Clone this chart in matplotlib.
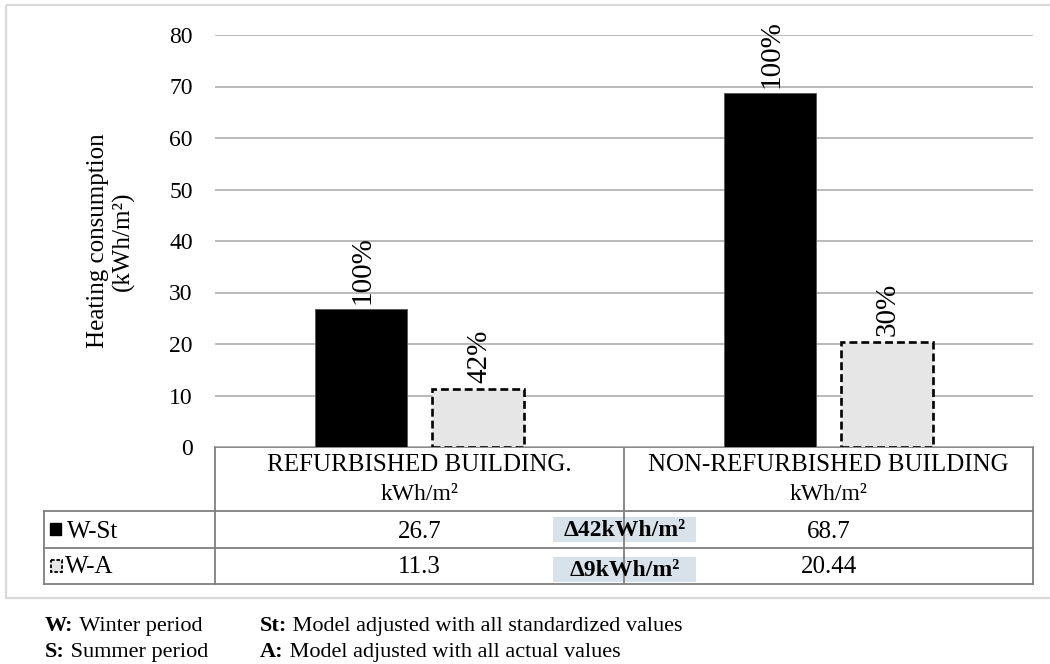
import matplotlib
matplotlib.use("Agg")
import matplotlib.pyplot as plt
from matplotlib.patches import Rectangle
from matplotlib.transforms import blended_transform_factory

# data
categories = ["REFURBISHED BUILDING.", "NON-REFURBISHED BUILDING"]
unit_label = "kWh/m²"
series_names = ["W-St", "W-A"]
w_st = [26.7, 68.7]
w_a = [11.3, 20.44]
w_st_pct = ["100%", "100%"]
w_a_pct = ["42%", "30%"]
delta_labels = ["Δ42kWh/m²", "Δ9kWh/m²"]
yticks = [0, 10, 20, 30, 40, 50, 60, 70, 80]
ylabel = "Heating consumption\n(kWh/m²)"
notes_left = [("W:", " Winter period"), ("S:", " Summer period")]
notes_right = [("St:", " Model adjusted with all standardized values"),
               ("A:", " Model adjusted with all actual values")]

plt.rcParams['font.family'] = ['Liberation Serif', 'DejaVu Serif']

W, H = 1050, 664
fig = plt.figure(figsize=(W / 100, H / 100), dpi=100)

# overlay in pixel coords for the frame, table and notes
over = fig.add_axes([0, 0, 1, 1], zorder=0)
over.set_xlim(0, W)
over.set_ylim(H, 0)
over.axis('off')

ax = fig.add_axes([215 / W, 1 - 447 / H, (1033 - 215) / W, (447 - 35) / H], zorder=1)
ax.patch.set_alpha(0)

# outer frame
over.add_patch(Rectangle((6, 5), 1060, 593, fill=False, ec='#d9d9d9', lw=1.6))

# bars
x = [0, 1]
off, bw = 0.142, 0.225
ax.bar([i - off for i in x], w_st, width=bw, color='black', edgecolor='#555555', lw=0.6, zorder=3)
ax.bar([i + off for i in x], w_a, width=bw, color='#e6e6e6', edgecolor='black',
       lw=1.9, linestyle=(0, (3, 1.5)), zorder=3)

for i in x:
    ax.annotate(w_st_pct[i], (i - off, w_st[i]), xytext=(1, 4), textcoords='offset points',
                rotation=90, ha='center', va='bottom', fontsize=21)
    ax.annotate(w_a_pct[i], (i + off, w_a[i]), xytext=(1, 4), textcoords='offset points',
                rotation=90, ha='center', va='bottom', fontsize=21)

ax.set_xlim(-0.5, 1.5)
ax.set_ylim(0, 80)
ax.set_yticks(yticks)
ax.set_xticks([])
ax.tick_params(axis='y', length=0, pad=16, labelsize=17)
ax.yaxis.grid(True, color='#b4b4b4', lw=1.3)
ax.set_axisbelow(True)
for s in ax.spines.values():
    s.set_visible(False)

fig.text(111 / W, 1 - 241 / H, ylabel, rotation=90, ha='center', va='center',
         fontsize=18, linespacing=1.15, multialignment='center')

# table under the axis
lc, lw = '#7f7f7f', 1.3
over.plot([215, 1033], [447, 447], color=lc, lw=lw)
for yy in [511, 548, 584]:
    over.plot([44, 1033], [yy, yy], color=lc, lw=lw)
for xx in [215, 624, 1033]:
    over.plot([xx, xx], [447, 584], color=lc, lw=lw)
over.plot([44, 44], [511, 584], color=lc, lw=lw)

tr = blended_transform_factory(ax.transData, over.transData)
for i in x:
    over.text(i, 465, categories[i], transform=tr, ha='center', va='center', fontsize=18)
    over.text(i, 494, unit_label, transform=tr, ha='center', va='center', fontsize=17)
    over.text(i, 532, str(w_st[i]), transform=tr, ha='center', va='center', fontsize=18)
    over.text(i, 567, str(w_a[i]), transform=tr, ha='center', va='center', fontsize=18)

over.add_patch(Rectangle((50, 523), 11, 12, color='black'))
over.add_patch(Rectangle((51, 560), 11, 12, fc='#e6e6e6', ec='black', lw=1.3, ls=(0, (2, 1))))
over.text(67, 532, series_names[0], ha='left', va='center', fontsize=18)
over.text(65, 567, series_names[1], ha='left', va='center', fontsize=18)

for k, yy in enumerate([517, 557]):
    over.add_patch(Rectangle((553, yy), 143, 25, fc='#d7e2ea', ec='none', zorder=0.5))
    over.text(624.5, yy + 13, delta_labels[k], ha='center', va='center',
              fontsize=17, fontweight='bold', zorder=3)

# notes below the chart
for col_x, notes in [(45, notes_left), (260, notes_right)]:
    for yy, (b, rest) in zip([631, 657], notes):
        t = over.text(col_x, yy, b, ha='left', va='baseline', fontsize=16, fontweight='bold')
        over.annotate(rest, xy=(1, 0), xycoords=t, ha='left', va='bottom', fontsize=16)

fig.savefig("out.png", dpi=100)
